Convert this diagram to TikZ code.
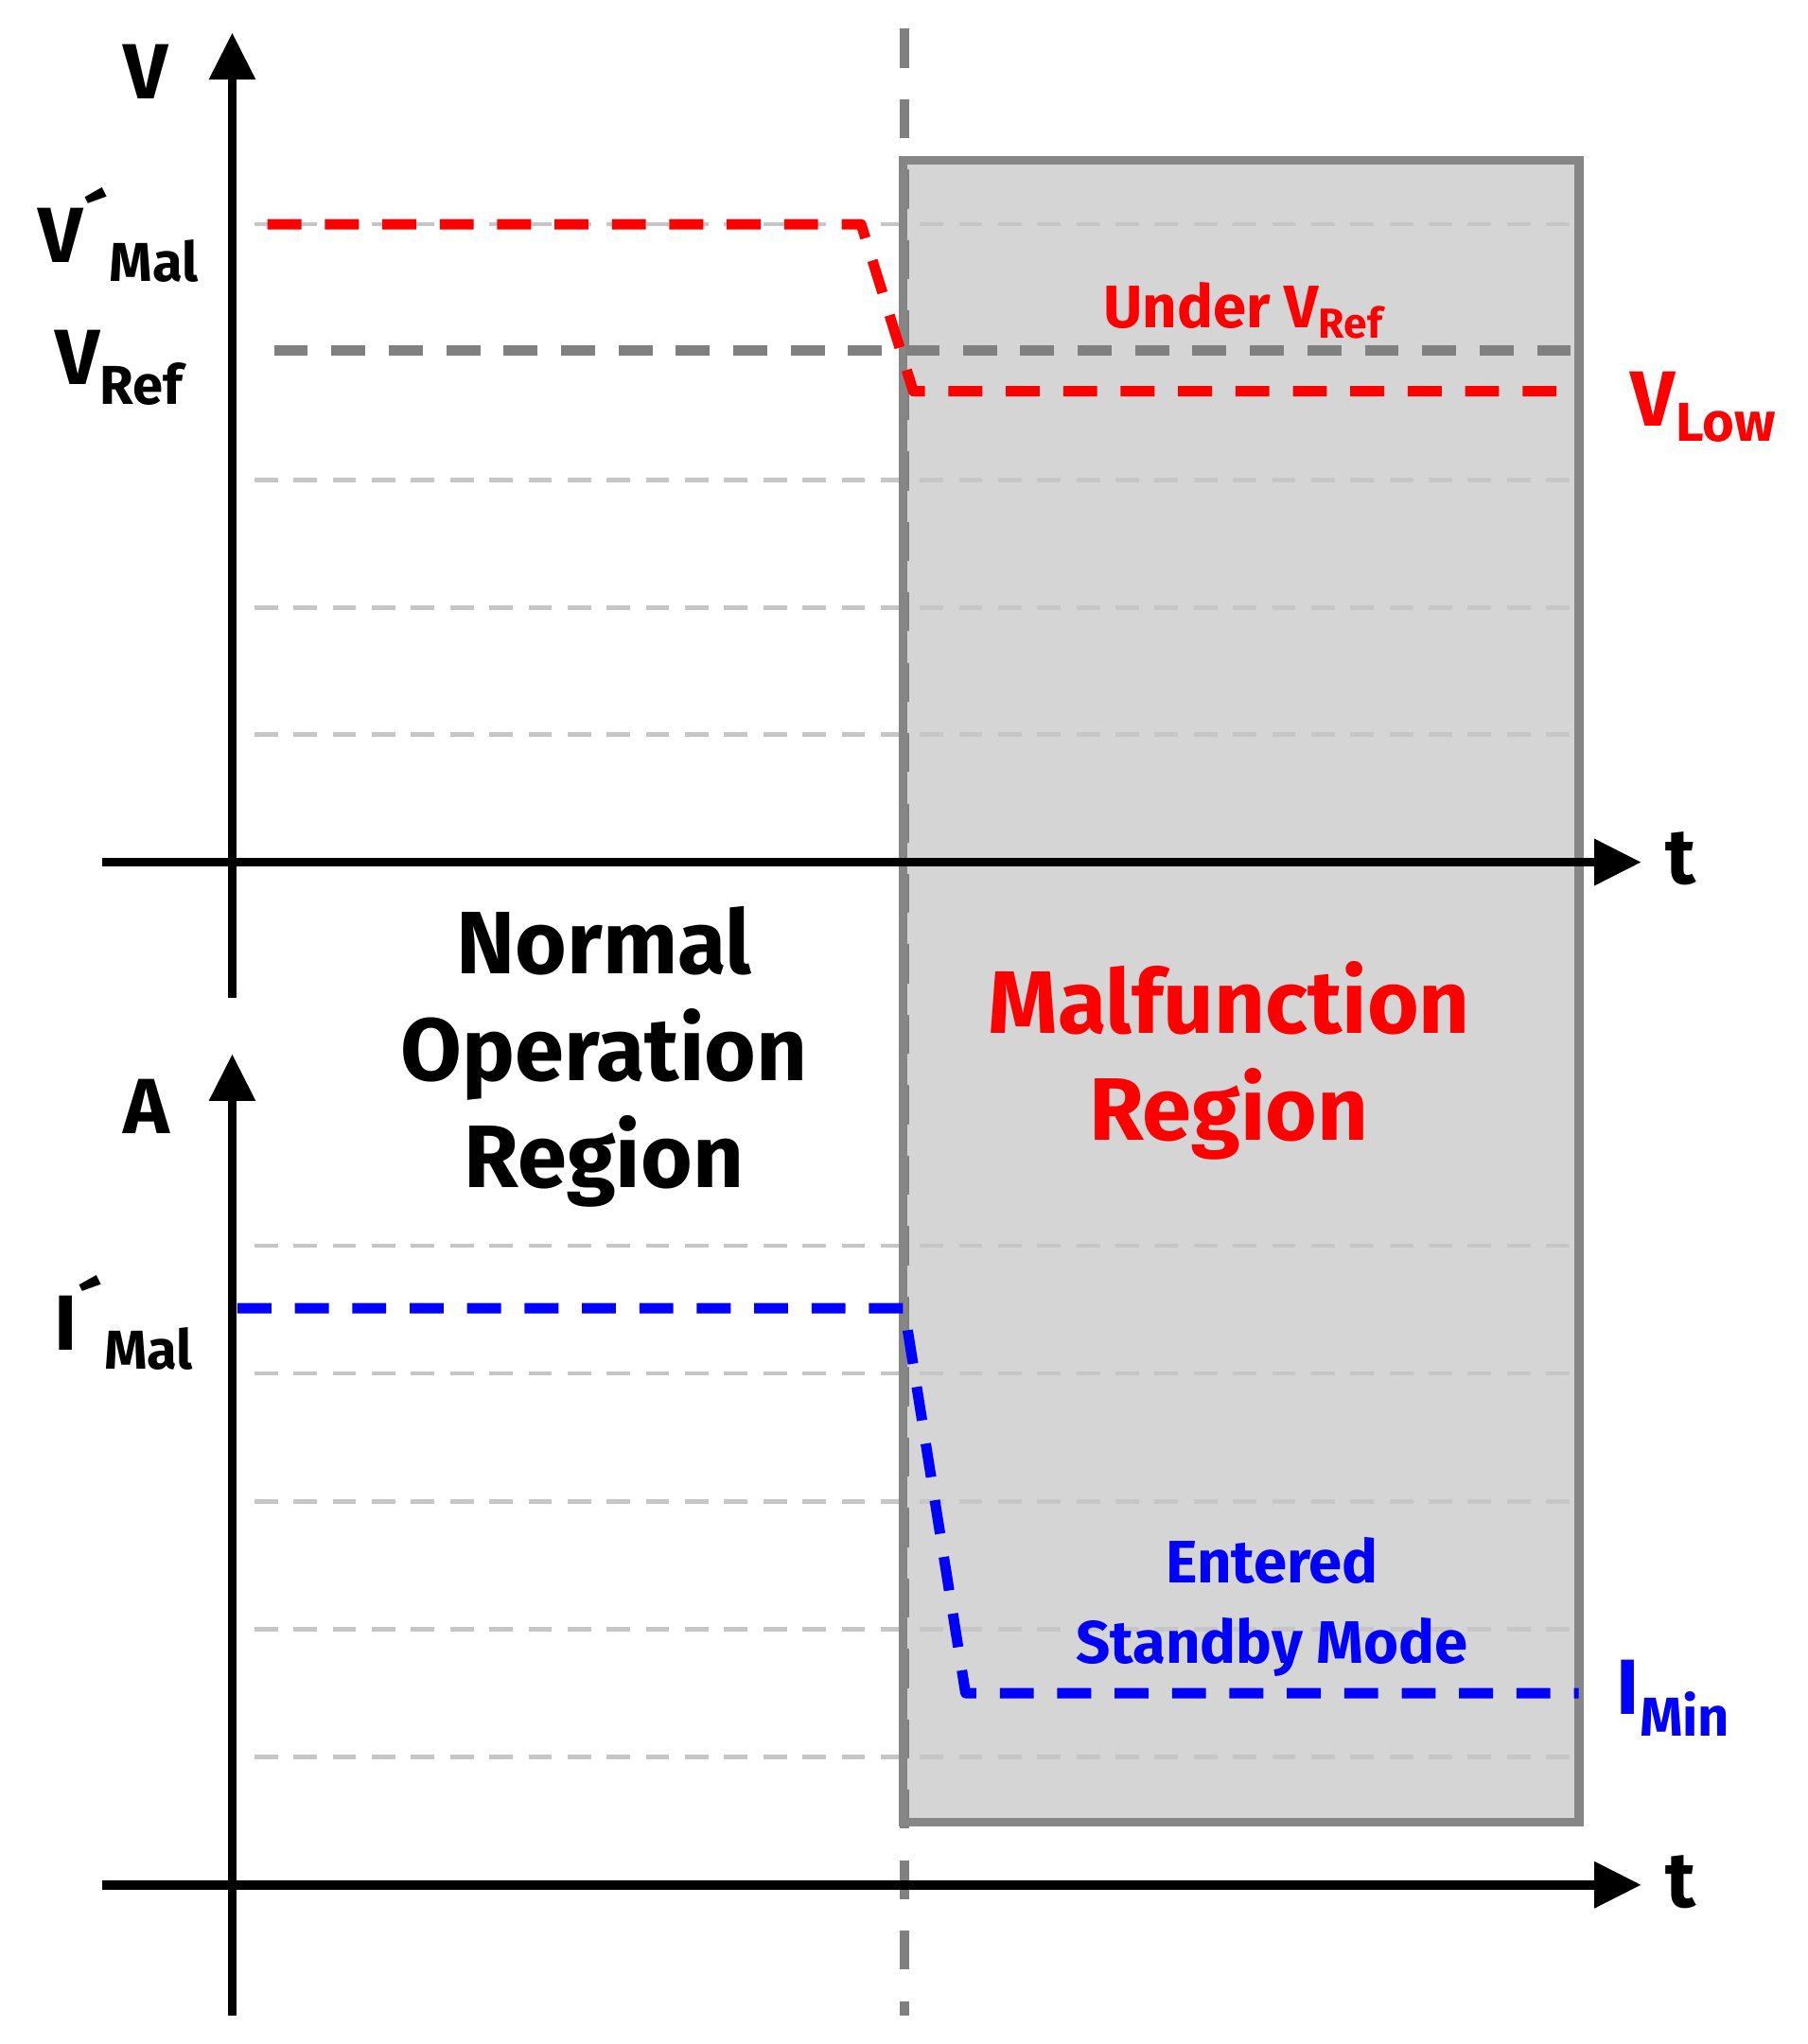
\documentclass[tikz,border=0pt]{standalone}
\usepackage{fontspec}
\setmainfont{Fira Sans}
\usetikzlibrary{arrows.meta}
\begin{document}
\begin{tikzpicture}[x=0.5pt,y=-0.5pt,
 ax/.style={line width=3.5pt,-{Triangle[length=18pt,width=17pt]}},
 grid/.style={draw=gray!45,line width=1.6pt,dash pattern=on 9pt off 6pt},
 sig/.style={line width=4pt,dash pattern=on 13pt off 9pt,line join=round},
 lbl/.style={font=\fontsize{30}{34}\selectfont\bfseries},
 big/.style={font=\fontsize{34}{41}\selectfont\bfseries,align=center},
 mid/.style={font=\fontsize{23}{31}\selectfont\bfseries,align=center}]
\useasboundingbox (0,0) rectangle (1385,1567);
\fill[fill=gray!33] (692,123) rectangle (1210,1397);
\foreach \y in {172,368,466,563,955,1053,1151,1249,1347}
  \draw[grid] (195,\y) -- (1210,\y);
\draw[gray,line width=3.5pt,dash pattern=on 15pt off 12pt] (693,22) -- (693,1545);
\draw[draw=gray!95,line width=3.5pt] (692,123) rectangle (1210,1397);
\draw[ax] (178,765) -- (178,25);
\draw[ax] (78,661) -- (1258,661);
\draw[ax] (178,1545) -- (178,808);
\draw[ax] (78,1445) -- (1258,1445);
\draw[sig,gray] (210,269) -- (1210,269);
\draw[sig,red] (205,172) -- (660,172) -- (700,300) -- (1210,300);
\draw[sig,blue] (182,1003) -- (693,1003) -- (740,1298) -- (1210,1298);
\node[lbl] (v) at (112,55) {V};
\node[lbl,anchor=east] (vmal) at (160,180) {V´\textsubscript{Mal}};
\node[lbl,anchor=east] (vref) at (148,282) {V\textsubscript{Ref}};
\node[lbl] (t1) at (1288,658) {t};
\node[lbl] (t2) at (1288,1443) {t};
\node[lbl] (a) at (112,848) {A};
\node[lbl,anchor=east] (imal) at (156,1014) {I´\textsubscript{Mal}};
\node[big] (nor) at (463,810) {Normal\\Operation\\Region};
\node[big,text=red] (mal) at (942,813) {Malfunction\\Region};
\node[mid,text=red] (under) at (953,238) {Under V\textsubscript{Ref}};
\node[lbl,text=red,anchor=west] (vlow) at (1243,312) {V\textsubscript{Low}};
\node[mid,text=blue] (ent) at (975,1232) {Entered\\Standby Mode};
\node[lbl,text=blue,anchor=west] (imin) at (1232,1302) {I\textsubscript{Min}};
\end{tikzpicture}
\end{document}
